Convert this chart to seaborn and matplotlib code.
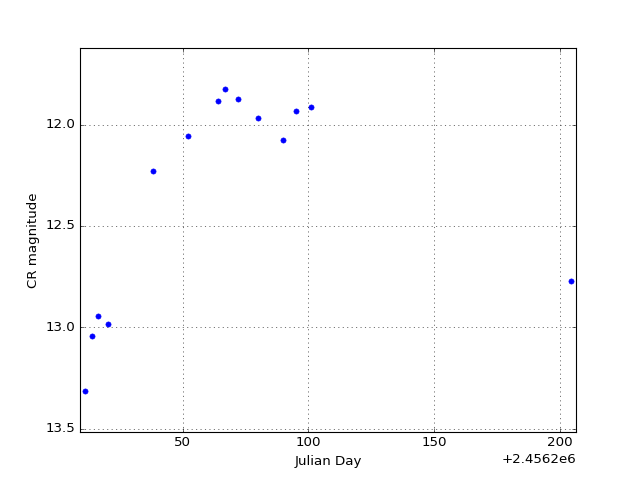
import matplotlib
matplotlib.use("Agg")
import matplotlib.pyplot as plt
import matplotlib.ticker as mticker
import seaborn as sns
import pandas as pd

plt.style.use("classic")

jd_offset = 2456200.0
jd_rel = [11.1, 14.0, 16.2, 20.1, 38.2, 52.1, 64.05, 67.0, 72.1, 80.0, 90.05, 95.0, 101.1, 204.5]
cr_mag = [13.315, 13.044, 12.943, 12.984, 12.229, 12.058, 11.882, 11.823, 11.874, 11.970, 12.074, 11.933, 11.915, 12.770]

df = pd.DataFrame({"jd": [jd_offset + v for v in jd_rel], "mag": cr_mag})

fig = plt.figure(figsize=(8, 6), dpi=80)
ax = fig.add_axes([0.125, 0.1, 0.775, 0.8])
sns.scatterplot(data=df, x="jd", y="mag", ax=ax, color="blue", s=22,
                edgecolor="blue", linewidth=0.5)

ax.set_xlim(min(df.jd) - 2, max(df.jd) + 2)
ax.set_ylim(max(cr_mag) + 0.2, min(cr_mag) - 0.2)
ax.set_xticks([jd_offset + v for v in [50, 100, 150, 200]])
ax.set_yticks([12.0, 12.5, 13.0, 13.5])
fmt = mticker.ScalarFormatter(useOffset=jd_offset)
ax.xaxis.set_major_formatter(fmt)
ax.grid(True)
ax.set_xlabel("Julian Day")
ax.set_ylabel("CR magnitude")

fig.savefig("out.png", dpi=80)
